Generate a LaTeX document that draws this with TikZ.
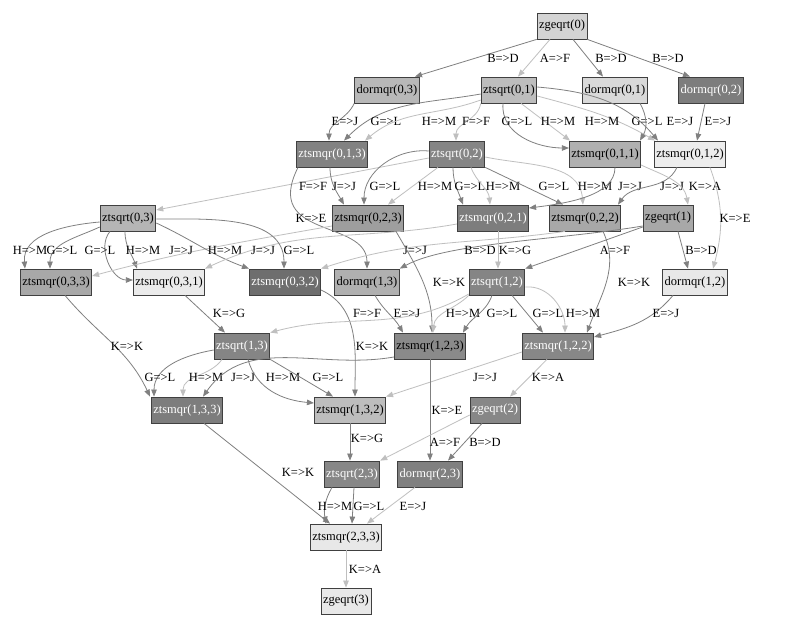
\documentclass[tikz,border=0pt]{standalone}
\usepackage{fontspec}
\setmainfont{Liberation Serif}
\usetikzlibrary{arrows.meta}
\newcommand{\dagfont}{\fontsize{12.5}{14}\selectfont}
\tikzset{
  task/.style={draw=black!75, line width=0.8pt, fill=black!#1, minimum height=26pt,
    inner xsep=2pt, inner ysep=0pt, font=\dagfont},
  wtask/.style={task=#1, text=white},
  dk/.style={draw=black!50, line width=0.8pt, -{Triangle[length=7pt,width=5.5pt]}},
  lt/.style={dk, draw=black!25},
  lbl/.style={font=\dagfont, inner sep=0pt}
}
\begin{document}
\begin{tikzpicture}[x=1pt, y=1pt]
	\useasboundingbox[fill=white] (0,0) rectangle (785,624);
	% tasks, one row per level
	\node[task=17] (z0) at (562,598) {zgeqrt(0)};
	\node[task=28] (d03) at (387,534) {dormqr(0,3)};
	\node[task=26] (ts01) at (509,534) {ztsqrt(0,1)};
	\node[task=15] (d01) at (615,534) {dormqr(0,1)};
	\node[wtask=51] (d02) at (711,534) {dormqr(0,2)};
	\node[wtask=49] (tm013) at (332,470) {ztsmqr(0,1,3)};
	\node[wtask=48] (ts02) at (457,470) {ztsqrt(0,2)};
	\node[task=31] (tm011) at (605,470) {ztsmqr(0,1,1)};
	\node[task=7] (tm012) at (690,470) {ztsmqr(0,1,2)};
	\node[task=29] (ts03) at (128,406) {ztsqrt(0,3)};
	\node[task=38] (tm023) at (368,406) {ztsmqr(0,2,3)};
	\node[wtask=51] (tm021) at (493,406) {ztsmqr(0,2,1)};
	\node[task=34] (tm022) at (585,406) {ztsmqr(0,2,2)};
	\node[task=34] (z1) at (668,406) {zgeqrt(1)};
	\node[task=34] (tm033) at (56,342) {ztsmqr(0,3,3)};
	\node[task=8] (tm031) at (169,342) {ztsmqr(0,3,1)};
	\node[wtask=57] (tm032) at (285,342) {ztsmqr(0,3,2)};
	\node[task=31] (d13) at (367,342) {dormqr(1,3)};
	\node[wtask=48] (ts12) at (497,342) {ztsqrt(1,2)};
	\node[task=9] (d12) at (695,342) {dormqr(1,2)};
	\node[wtask=48] (ts13) at (242,278) {ztsqrt(1,3)};
	\node[task=46] (tm123) at (430,278) {ztsmqr(1,2,3)};
	\node[wtask=47] (tm122) at (558,278) {ztsmqr(1,2,2)};
	\node[wtask=51] (tm133) at (187,214) {ztsmqr(1,3,3)};
	\node[task=26] (tm132) at (350,214) {ztsmqr(1,3,2)};
	\node[wtask=47] (z2) at (495,214) {zgeqrt(2)};
	\node[wtask=47] (ts23) at (352,150) {ztsqrt(2,3)};
	\node[wtask=50] (d23) at (430,150) {dormqr(2,3)};
	\node[task=9] (tm233) at (346,87) {ztsmqr(2,3,3)};
	\node[task=9] (z3) at (346,23) {zgeqrt(3)};

	% level 0
	\draw[dk] (z0.south west) -- ([xshift=28]d03.north);
	\node[lbl] (e1) at (503,566) {B=>D};
	\draw[lt] ([xshift=-12]z0.south) -- ([xshift=9]ts01.north);
	\node[lbl] (e2) at (555,566) {A=>F};
	\draw[dk] ([xshift=11]z0.south) -- ([xshift=-12]d01.north);
	\node[lbl] (e3) at (611,566) {B=>D};
	\draw[dk] (z0.south east) -- ([xshift=-21]d02.north);
	\node[lbl] (e4) at (668,566) {B=>D};

	\draw[dk] (d03.south west) to[out=245,in=90] ([xshift=-3]tm013.north);
	\node[lbl] (e5) at (345,503) {E=>J};
	\draw[dk] ([yshift=-4]ts01.west) to[out=190,in=45] ([xshift=12]tm013.north);
	\node[lbl] (e6) at (386,503) {G=>L};
	\draw[lt] ([yshift=-10]ts01.west) to[out=200,in=40] ([xshift=-3]tm013.north east);
	\node[lbl] (e7) at (439,503) {H=>M};
	\draw[lt] (ts01.south west) to[out=260,in=90] ([xshift=-1]ts02.north);
	\node[lbl] (e8) at (476,503) {F=>F};
	\draw[dk] ([xshift=-6]ts01.south) to[out=265,in=180] ([yshift=6]tm011.west);
	\node[lbl] (e9) at (517,503) {G=>L};
	\draw[lt] ([xshift=12]ts01.south) -- ([xshift=-35]tm011.north);
	\node[lbl] (e10) at (558,503) {H=>M};
	\draw[lt] ([yshift=-6]ts01.east) to[out=-15,in=150] ([xshift=-35]tm012.north);
	\node[lbl] (e11) at (602,503) {H=>M};
	\draw[dk] ([yshift=3]ts01.east) to[out=-5,in=130] ([xshift=-32]tm012.north);
	\node[lbl] (e12) at (647,503) {G=>L};
	\draw[dk] ([xshift=25]d01.south) to[out=-60,in=60] ([xshift=35]tm011.north);
	\node[lbl] (e13) at (680,503) {E=>J};
	\draw[dk] ([xshift=-6]d02.south) -- ([xshift=7]tm012.north);
	\node[lbl] (e14) at (718,503) {E=>J};

	\draw[lt] ([yshift=-4]ts02.west) -- ([yshift=8]ts03.east);
	\node[lbl] (e15) at (313,438) {F=>F};
	\draw[dk] ([xshift=-2]tm013.south) to[out=270,in=120] ([xshift=-24]tm023.north);
	\node[lbl] (e16) at (344,438) {J=>J};
	\draw[dk] ([yshift=3]ts02.west) to[out=175,in=90] ([xshift=-4]tm023.north);
	\node[lbl] (e17) at (385,438) {G=>L};
	\draw[lt] ([xshift=-19]ts02.south) -- ([xshift=20]tm023.north);
	\node[lbl] (e18) at (435,438) {H=>M};
	\draw[dk] ([xshift=-4]ts02.south) to[out=270,in=110] ([xshift=-30]tm021.north);
	\node[lbl] (e19) at (470,438) {G=>L};
	\draw[lt] ([xshift=14]ts02.south) to[out=-70,in=95] ([xshift=-3]tm021.north);
	\node[lbl] (e20) at (503,438) {H=>M};
	\draw[dk] (ts02.south east) -- ([xshift=-22]tm022.north);
	\node[lbl] (e21) at (554,438) {G=>L};
	\draw[lt] ([yshift=-3]ts02.east) to[out=-12,in=95] ([xshift=-2]tm022.north);
	\node[lbl] (e22) at (595,438) {H=>M};
	\draw[dk] ([xshift=10]tm011.south) .. controls +(0,-28) and +(40,5) .. ([yshift=10]tm021.east);
	\node[lbl] (e23) at (630,438) {J=>J};
	\draw[dk] ([xshift=-13]tm012.south) to[out=245,in=55] ([xshift=33]tm022.north);
	\node[lbl] (e24) at (672,438) {J=>J};
	\draw[lt] ([yshift=-11]tm011.east) to[out=-25,in=100] ([xshift=20]z1.north);
	\node[lbl] (e25) at (705,438) {K=>A};
	\draw[lt] ([xshift=20]tm012.south) to[out=-70,in=75] ([xshift=18]d12.north);
	\node[lbl] (e26) at (735,406) {K=>E};
	\draw[dk] ([xshift=-34]tm013.south) .. controls +(-36,-72) and +(0,50) .. (d13.north);
	\node[lbl] (e27) at (311,406) {K=>E};

	\draw[dk] ([yshift=-4]ts03.west) to[out=185,in=95] ([xshift=-31]tm033.north);
	\node[lbl] (e28) at (30,374) {H=>M};
	\draw[dk] ([yshift=-9]ts03.west) to[out=205,in=90] ([xshift=-6]tm033.north);
	\node[lbl] (e29) at (62,374) {G=>L};
	\draw[dk] ([xshift=-18]ts03.south) to[out=230,in=180] ([yshift=2]tm031.west);
	\node[lbl] (e30) at (100,374) {G=>L};
	\draw[dk] ([xshift=-3]ts03.south) to[out=270,in=110] ([xshift=-32]tm031.north);
	\node[lbl] (e31) at (143,374) {H=>M};
	\draw[lt] ([yshift=-8]tm023.west) to[out=190,in=15] ([yshift=6]tm033.east);
	\node[lbl] (e32) at (181,374) {J=>J};
	\draw[dk] ([yshift=-5]ts03.east) to[out=-25,in=160] (tm032.north west);
	\node[lbl] (e33) at (225,374) {H=>M};
	\draw[lt] ([yshift=-6]tm021.west) to[out=190,in=25] (tm031.north east);
	\node[lbl] (e34) at (263,374) {J=>J};
	\draw[dk] ([yshift=-1]ts03.east) to[out=0,in=90] ([xshift=-1]tm032.north);
	\node[lbl] (e35) at (299,374) {G=>L};
	\draw[lt] ([xshift=-20]tm022.south) to[out=188,in=18] (tm032.north east);
	\node[lbl] (e36) at (415,374) {J=>J};

	% level 1
	\draw[dk] ([yshift=-8]z1.west) .. controls +(-83,-14) and +(48,26) .. (d13.north east);
	\node[lbl] (e37) at (480,374) {B=>D};
	\draw[lt] ([xshift=5]tm021.south) -- ([xshift=1]ts12.north);
	\node[lbl] (e38) at (515,374) {K=>G};
	\draw[dk] ([yshift=-9]z1.west) -- (ts12.north east);
	\node[lbl] (e39) at (615,374) {A=>F};
	\draw[dk] ([xshift=10]z1.south) -- ([xshift=-7]d12.north);
	\node[lbl] (e40) at (701,374) {B=>D};
	\draw[dk] ([xshift=28]tm023.south) to[out=-60,in=90] ([xshift=2]tm123.north);
	\node[lbl] (e41) at (449,342) {K=>K};
	\draw[dk] ([xshift=18]tm022.south) to[out=-65,in=70] ([xshift=29]tm122.north);
	\node[lbl] (e42) at (634,342) {K=>K};

	\draw[dk] ([xshift=9]tm033.south) to[out=-50,in=115] ([xshift=-37]tm133.north);
	\node[lbl] (e43) at (127,278) {K=>K};
	\draw[dk] ([xshift=16]tm031.south) -- ([xshift=-17]ts13.north);
	\node[lbl] (e44) at (229,311) {K=>G};
	\draw[dk] ([yshift=-8]tm032.east) to[out=-25,in=90] ([xshift=5]tm132.north);
	\node[lbl] (e45) at (372,278) {K=>K};
	\draw[lt] ([yshift=-12]ts12.west) to[out=210,in=15] (ts13.north east);
	\node[lbl] (e46) at (367,311) {F=>F};
	\draw[dk] ([xshift=8]d13.south) to[out=-60,in=120] ([xshift=-27]tm123.north);
	\node[lbl] (e47) at (407,311) {E=>J};
	\draw[lt] (ts12.south west) to[out=225,in=85] ([xshift=3]tm123.north);
	\node[lbl] (e48) at (463,311) {H=>M};
	\draw[dk] ([xshift=-5]ts12.south) to[out=250,in=60] ([xshift=33]tm123.north);
	\node[lbl] (e49) at (502,311) {G=>L};
	\draw[dk] ([xshift=15]ts12.south) -- ([xshift=-15]tm122.north);
	\node[lbl] (e50) at (548,311) {G=>L};
	\draw[lt] ([yshift=-5]ts12.east) to[out=5,in=90] ([xshift=7]tm122.north);
	\node[lbl] (e51) at (583,311) {H=>M};
	\draw[dk] ([xshift=-22]d12.south) to[out=230,in=15] ([yshift=9]tm122.east);
	\node[lbl] (e52) at (666,311) {E=>J};

	\draw[dk] ([yshift=-4]ts13.west) to[out=190,in=90] ([xshift=-33]tm133.north);
	\node[lbl] (e53) at (160,247) {G=>L};
	\draw[lt] ([xshift=-20]ts13.south) to[out=235,in=90] ([xshift=-4]tm133.north);
	\node[lbl] (e54) at (206,247) {H=>M};
	\draw[dk] ([yshift=-11]tm123.west) to[out=190,in=55] ([xshift=16]tm133.north);
	\node[lbl] (e55) at (243,247) {J=>J};
	\draw[dk] ([xshift=6]ts13.south) to[out=-75,in=175] ([yshift=7]tm132.west);
	\node[lbl] (e56) at (283,247) {H=>M};
	\draw[dk] (ts13.south east) -- ([xshift=-17]tm132.north);
	\node[lbl] (e57) at (328,247) {G=>L};
	\draw[lt] ([yshift=-6]tm122.west) -- (tm132.north east);
	\node[lbl] (e58) at (485,247) {J=>J};

	% level 2 and 3
	\draw[lt] ([xshift=-11]tm122.south) -- ([xshift=15]z2.north);
	\node[lbl] (e59) at (548,247) {K=>A};
	\draw[dk] (tm123.south) -- (d23.north);
	\node[lbl] (e60) at (447,214) {K=>E};
	\draw[dk] (tm132.south) -- ([xshift=-2]ts23.north);
	\node[lbl] (e61) at (367,186) {K=>G};
	\draw[lt] ([yshift=-5]z2.west) -- (ts23.north east);
	\node[lbl] (e62) at (445,182) {A=>F};
	\draw[dk] ([xshift=-13]z2.south) -- ([xshift=18]d23.north);
	\node[lbl] (e63) at (485,182) {B=>D};
	\draw[dk] ([xshift=17]tm133.south) -- ([xshift=-16]tm233.north);
	\node[lbl] (e64) at (298,152) {K=>K};
	\draw[dk] ([xshift=-20]ts23.south) to[out=240,in=100] ([xshift=-20]tm233.north);
	\node[lbl] (e65) at (335,118) {H=>M};
	\draw[dk] ([xshift=2]ts23.south) -- ([xshift=6]tm233.north);
	\node[lbl] (e66) at (369,118) {G=>L};
	\draw[lt] ([xshift=-15]d23.south) -- ([xshift=21]tm233.north);
	\node[lbl] (e67) at (413,118) {E=>J};
	\draw[lt] (tm233.south) -- (z3.north);
	\node[lbl] (e68) at (365,55) {K=>A};
\end{tikzpicture}
\end{document}
